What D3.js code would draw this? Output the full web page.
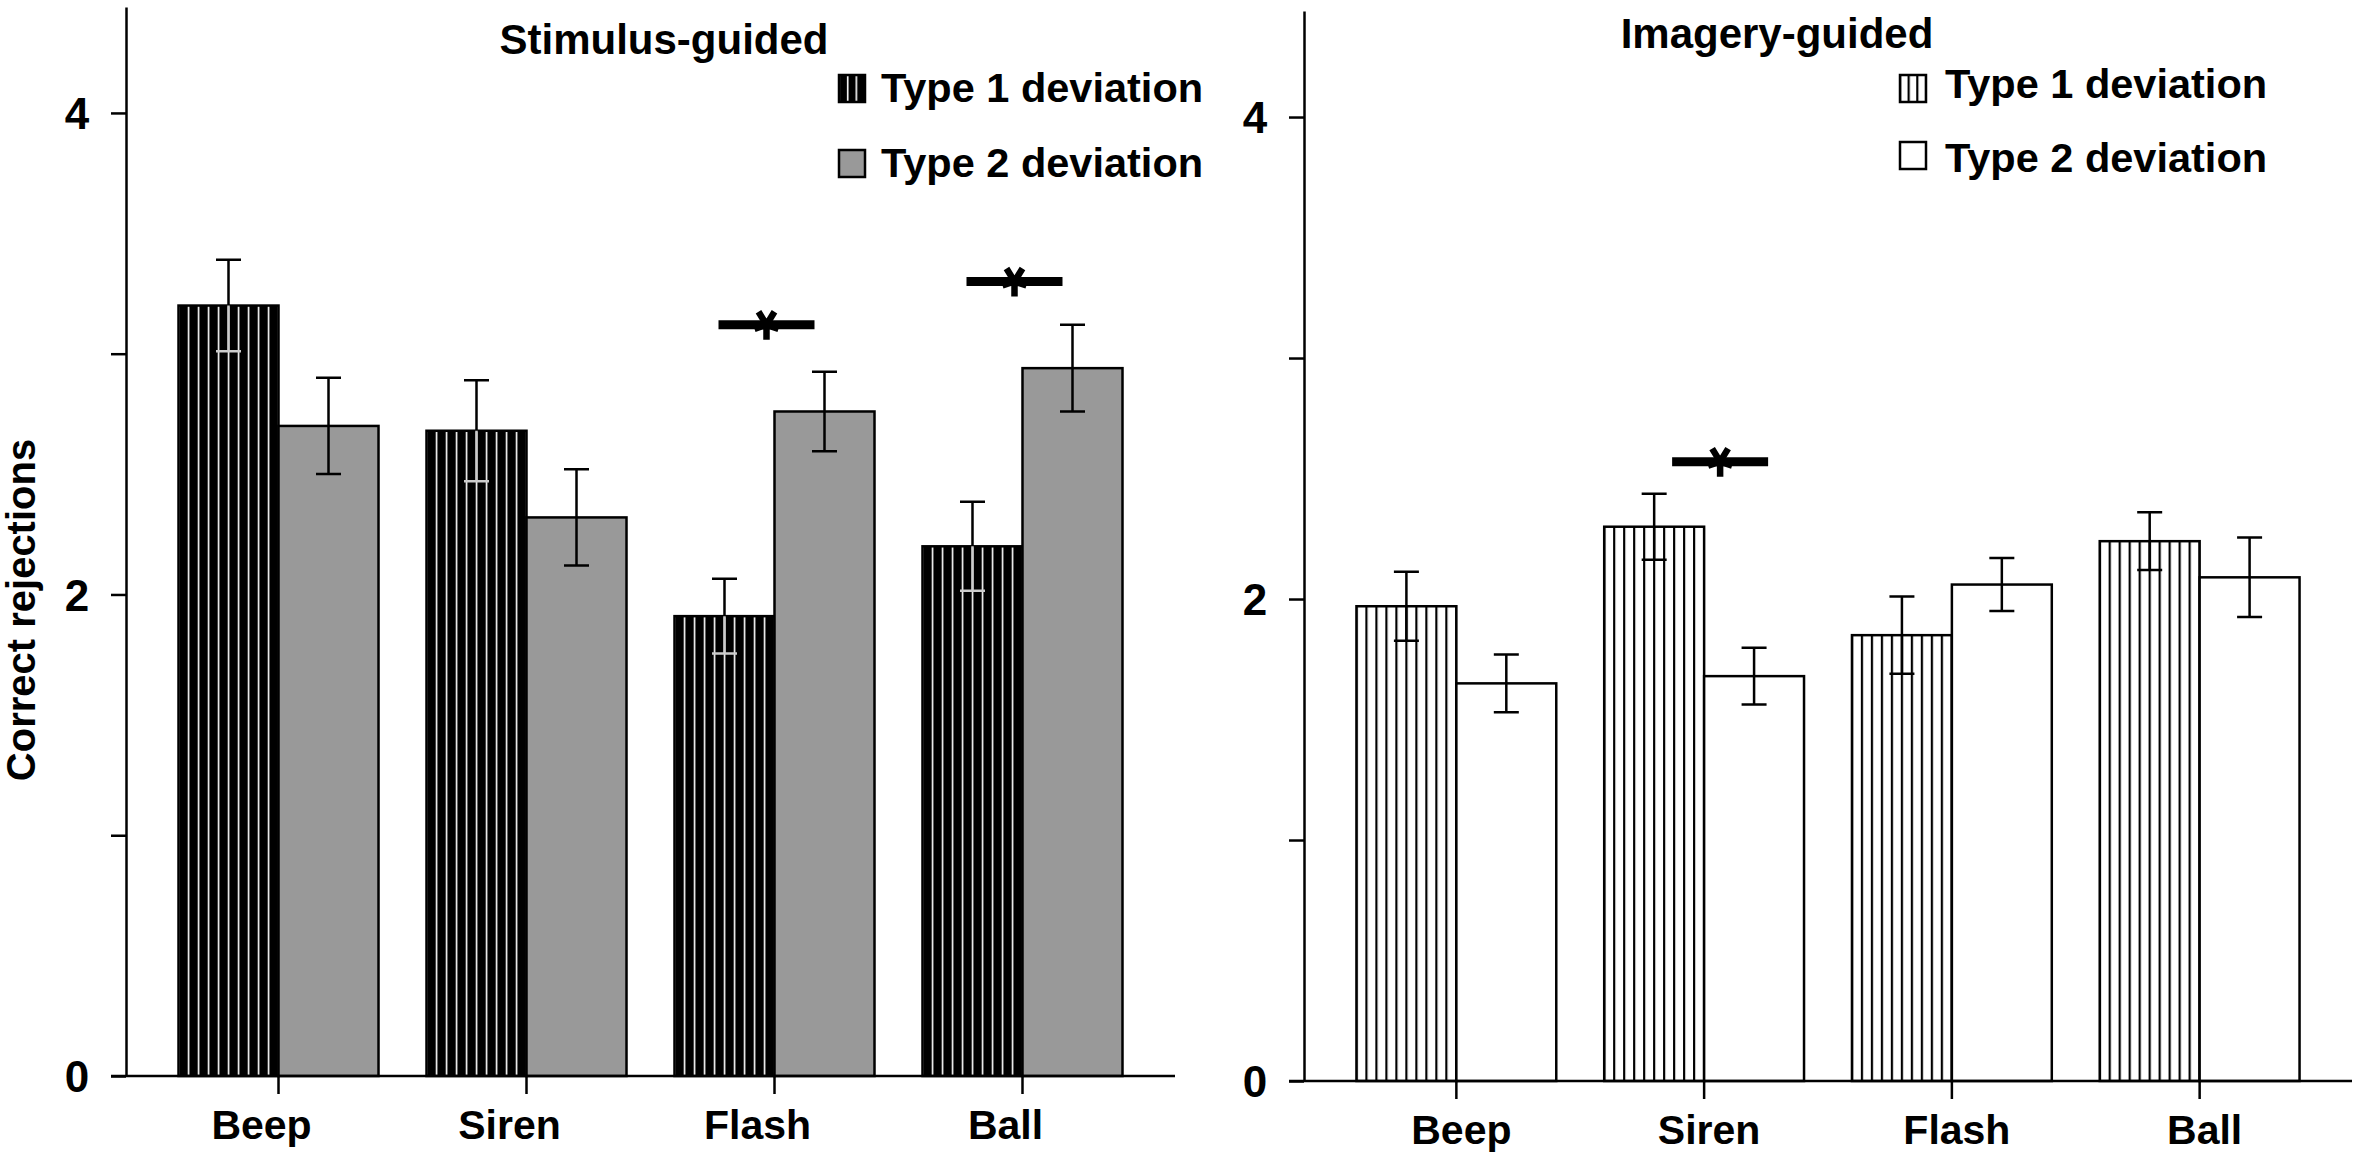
<!DOCTYPE html>
<html>
<head>
<meta charset="utf-8" />
<title>Correct rejections</title>
<script src="https://d3js.org/d3.v7.min.js"></script>
<style>
body { margin: 0; background: #fff; }
text { font-family: "Liberation Sans", Arial, sans-serif; font-weight: bold; fill: #000; }
.axis path, .axis line { stroke: #000; stroke-width: 2.5; }
</style>
</head>
<body>
<div id="viz"></div>
<script>

// data
var categories = ["Beep", "Siren", "Flash", "Ball"];
var seriesNames = ["Type 1 deviation", "Type 2 deviation"];

var stimType1 = [3.20, 2.68, 1.91, 2.20];
var stimType1Err = [0.19, 0.21, 0.155, 0.185];
var stimType2 = [2.70, 2.32, 2.76, 2.94];
var stimType2Err = [0.20, 0.20, 0.165, 0.18];

var imagType1 = [1.97, 2.30, 1.85, 2.24];
var imagType1Err = [0.143, 0.137, 0.16, 0.12];
var imagType2 = [1.65, 1.68, 2.06, 2.09];
var imagType2Err = [0.12, 0.118, 0.11, 0.165];

var yTicks = [0, 1, 2, 3, 4];
var yTickLabels = ["0", "", "2", "", "4"];

// significance bars (category, height)
var stimSigCats = ["Flash", "Ball"];
var stimSigY = [3.12, 3.30];
var imagSigCats = ["Siren"];
var imagSigY = [2.57];

var W = 2362, H = 1156;

var svg = d3.select("#viz").append("svg")
    .attr("width", W)
    .attr("height", H);

var defs = svg.append("defs");

// layout + style for each panel
var panels = [
  { id: "stim", title: "Stimulus-guided", titleX: 664, titleY: 54,
    left: 126, right: 1175, bottom: 1076, top: 7,
    values: [stimType1, stimType2], errs: [stimType1Err, stimType2Err],
    sigCats: stimSigCats, sigY: stimSigY, sigDx: -8, labelDx: -17,
    bg: ["#000", "#999"], stripe: ["#fff", null], stripeW: 1.6,
    legX: 839, legY: [75, 150], legTextX: 881, legBase: [102, 177] },
  { id: "imag", title: "Imagery-guided", titleX: 1777, titleY: 48,
    left: 1304, right: 2352, bottom: 1081, top: 11,
    values: [imagType1, imagType2], errs: [imagType1Err, imagType2Err],
    sigCats: imagSigCats, sigY: imagSigY, sigDx: 16, labelDx: 5,
    bg: ["#fff", "#fff"], stripe: ["#000", null], stripeW: 2.2,
    legX: 1900, legY: [75, 142], legTextX: 1945, legBase: [98, 172] }
];

function stripePattern(id, x0, period, bg, fg, sw) {
  var p = defs.append("pattern")
      .attr("id", id)
      .attr("patternUnits", "userSpaceOnUse")
      .attr("x", x0 - sw / 2)
      .attr("y", 0)
      .attr("width", period)
      .attr("height", H);
  p.append("rect").attr("width", period).attr("height", H).attr("fill", bg);
  p.append("rect").attr("width", sw).attr("height", H).attr("fill", fg);
}

// asterisk drawn as five thick arms around (0,0)
var starPath = "M0,0L-8,-13M0,0L8,-13M0,0L-12,4M0,0L12,4M0,0L0,15";

panels.forEach(function(p) {
  var g = svg.append("g");

  var x0 = d3.scaleBand().domain(categories)
      .range([p.left, p.right])
      .paddingInner(0.1935).paddingOuter(0.2117);
  var x1 = d3.scaleBand().domain([0, 1]).range([0, x0.bandwidth()]);
  var y = d3.scaleLinear().domain([0, 4.44]).range([p.bottom, p.top]);

  var bars = [];
  categories.forEach(function(c, i) {
    p.values.forEach(function(vals, s) {
      bars.push({ cat: c, s: s, v: vals[i], e: p.errs[s][i] });
    });
  });

  // fills (hatched for type 1)
  bars.forEach(function(d, k) {
    d.x = x0(d.cat) + x1(d.s);
    if (p.stripe[d.s]) {
      d.fill = "url(#" + p.id + "-pat-" + k + ")";
      stripePattern(p.id + "-pat-" + k, d.x, x1.bandwidth() / 10, p.bg[d.s], p.stripe[d.s], p.stripeW);
    } else {
      d.fill = p.bg[d.s];
    }
  });

  g.selectAll(".bar")
    .data(bars)
    .enter().append("rect")
      .attr("class", "bar")
      .attr("x", function(d) { return d.x; })
      .attr("y", function(d) { return y(d.v); })
      .attr("width", x1.bandwidth())
      .attr("height", function(d) { return y(0) - y(d.v); })
      .attr("fill", function(d) { return d.fill; })
      .attr("stroke", "#000")
      .attr("stroke-width", 2.5);

  // error bars
  var cap = 12.5;
  var eb = g.selectAll(".err")
    .data(bars)
    .enter().append("g")
      .attr("class", "err")
      .attr("transform", function(d) { return "translate(" + (d.x + x1.bandwidth() / 2) + ",0)"; });

  eb.append("path")
      .attr("d", function(d) {
        return "M0," + y(d.v + d.e) + "V" + y(d.v) +
               "M" + (-cap) + "," + y(d.v + d.e) + "H" + cap;
      })
      .attr("fill", "none").attr("stroke", "#000").attr("stroke-width", 2.5);

  // lower half sits inside the bar; light on the dark bars
  eb.append("path")
      .attr("d", function(d) {
        return "M0," + y(d.v) + "V" + y(d.v - d.e) +
               "M" + (-cap) + "," + y(d.v - d.e) + "H" + cap;
      })
      .attr("fill", "none")
      .attr("stroke", function(d) { return p.bg[d.s] === "#000" ? "#ccc" : "#000"; })
      .attr("stroke-width", 2.5);

  // y axis
  var yAxis = g.append("g")
      .attr("class", "axis")
      .attr("transform", "translate(" + p.left + ",0)")
      .call(d3.axisLeft(y).tickValues(yTicks).tickSize(15).tickSizeOuter(0).tickPadding(20)
        .tickFormat(function(d, i) { return yTickLabels[i]; }));
  yAxis.selectAll("text")
      .style("font-size", "44px")
      .attr("text-anchor", "middle")
      .attr("x", -49)
      .attr("dy", "0.36em");

  // x axis
  var xAxis = g.append("g")
      .attr("class", "axis")
      .attr("transform", "translate(0," + p.bottom + ")")
      .call(d3.axisBottom(x0).tickSize(18).tickSizeOuter(0));
  xAxis.select(".domain").attr("d", "M" + (p.left - 15) + ",0H" + p.right);
  xAxis.selectAll("text")
      .style("font-size", "41px")
      .attr("y", 63)
      .attr("dy", 0)
      .attr("dx", p.labelDx);

  // significance markers
  p.sigCats.forEach(function(c, i) {
    var cx = x0(c) + x0.bandwidth() / 2 + p.sigDx, cy = y(p.sigY[i]);
    g.append("line")
        .attr("x1", cx - 48).attr("x2", cx + 48)
        .attr("y1", cy).attr("y2", cy)
        .attr("stroke", "#000").attr("stroke-width", 9);
    g.append("path")
        .attr("transform", "translate(" + cx + "," + cy + ")")
        .attr("d", starPath)
        .attr("fill", "none")
        .attr("stroke", "#000")
        .attr("stroke-width", 6.5);
  });

  // panel title
  g.append("text")
      .attr("x", p.titleX).attr("y", p.titleY)
      .attr("text-anchor", "middle")
      .style("font-size", "42px")
      .text(p.title);

  // legend
  seriesNames.forEach(function(name, s) {
    var fill = p.bg[s];
    if (p.stripe[s]) {
      stripePattern(p.id + "-leg-" + s, p.legX, 26 / 3, p.bg[s], p.stripe[s], p.stripeW);
      fill = "url(#" + p.id + "-leg-" + s + ")";
    }
    g.append("rect")
        .attr("x", p.legX).attr("y", p.legY[s])
        .attr("width", 26).attr("height", 27)
        .attr("fill", fill)
        .attr("stroke", "#000").attr("stroke-width", 2.5);
    g.append("text")
        .attr("x", p.legTextX).attr("y", p.legBase[s])
        .style("font-size", "41.5px")
        .text(name);
  });
});

// shared y axis title
svg.append("text")
    .attr("transform", "translate(35,610) rotate(-90)")
    .attr("text-anchor", "middle")
    .style("font-size", "40px")
    .text("Correct rejections");

</script>
</body>
</html>
